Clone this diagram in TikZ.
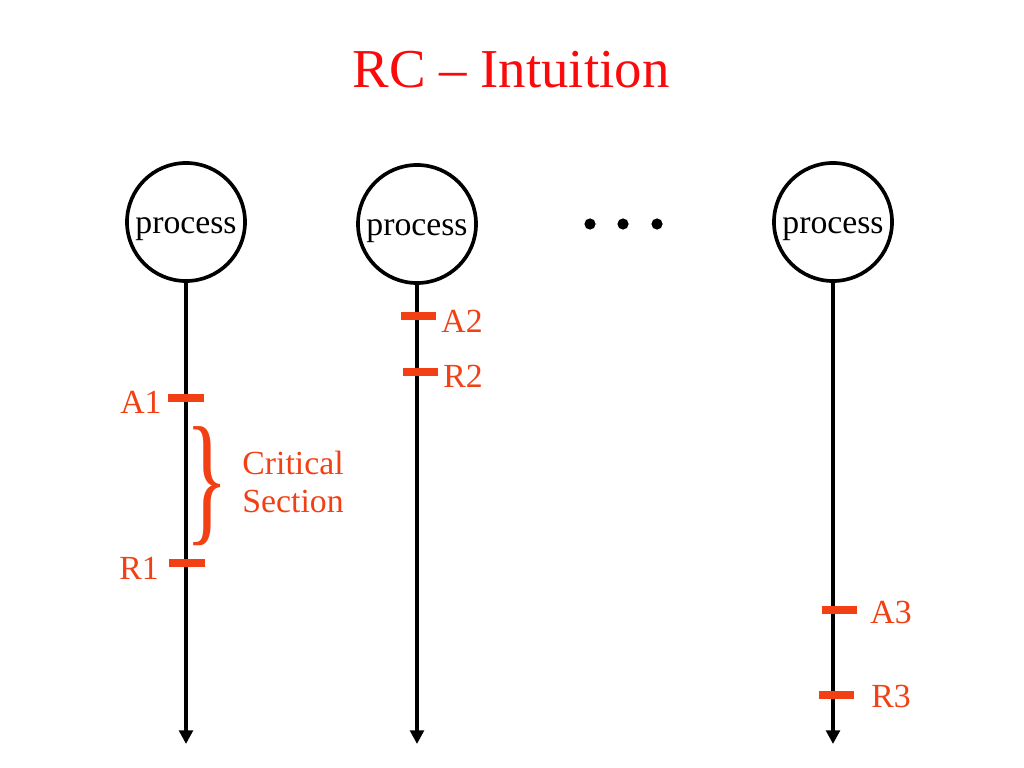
\documentclass[tikz,border=0pt]{standalone}
\usepackage{fontspec}
\setmainfont{Liberation Serif}
\usetikzlibrary{arrows.meta}
\definecolor{ttlred}{RGB}{250,10,10}
\definecolor{lblred}{RGB}{242,64,20}

\begin{document}
\begin{tikzpicture}
  [x=0.025cm,y=-0.025cm,
   proc/.style={circle,draw,line width=2.6pt,minimum size=2.95cm,inner sep=0pt,
     text height=16pt,text depth=0pt,font=\fontsize{24}{27}\selectfont},
   tick/.style={rectangle,fill=lblred,minimum width=0.875cm,minimum height=0.18cm,inner sep=0pt},
   lbl/.style={text=lblred,inner sep=0pt,font=\fontsize{24}{27}\selectfont},
   timeline/.style={line width=2.5pt,-{Triangle[width=0.34cm,length=0.34cm]}}]
  \useasboundingbox (0,0) rectangle (1024,768);

  \node[text=ttlred,anchor=base,font=\fontsize{39}{44}\selectfont] (title) at (511,88) {RC -- Intuition};

  \node[proc] (p1) at (186,222) {process};
  \node[proc] (p2) at (417,224) {process};
  \node[proc] (p3) at (833,222) {process};

  \coordinate (e1) at (186,744);
  \coordinate (e2) at (417,744);
  \coordinate (e3) at (833,744);

  \foreach \from/\to in {p1/e1,p2/e2,p3/e3}
    \draw[timeline] (\from) -- (\to);

  \foreach \x in {590,623,657}
    \fill (\x,224) circle (0.14cm);

  \node[tick] (a1) at (186,398) {};
  \node[tick] (r1) at (187,563) {};
  \node[tick] (a2) at (418,316) {};
  \node[tick] (r2) at (420,372) {};
  \node[tick] (a3) at (839,610) {};
  \node[tick] (r3) at (836,695) {};

  \node[lbl] (la1) at (141,402) {A1};
  \node[lbl] (lr1) at (139,568) {R1};
  \node[lbl] (la2) at (462,321) {A2};
  \node[lbl] (lr2) at (463,376) {R2};
  \node[lbl] (la3) at (891,612) {A3};
  \node[lbl] (lr3) at (891,696) {R3};

  \node[lbl,font=\fontsize{64}{64}\selectfont,yscale=1.6] (brace) at (207,486) {\}};
  \node[lbl,align=left] (crit) at (293,482) {Critical\\Section};
\end{tikzpicture}
\end{document}
